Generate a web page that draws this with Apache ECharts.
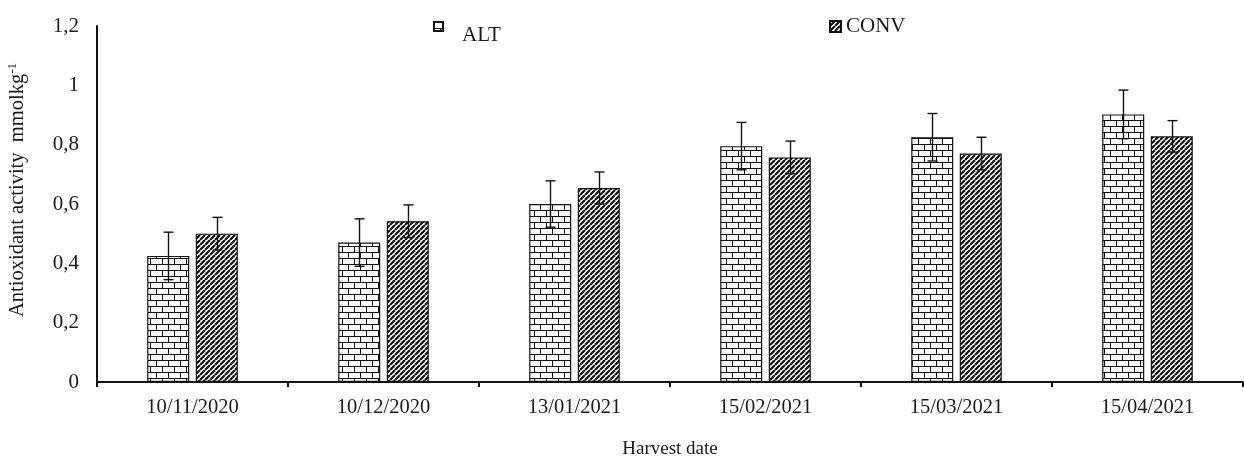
<!DOCTYPE html>
<html>
<head>
<meta charset="utf-8">
<script src="https://cdn.jsdelivr.net/npm/echarts@6/dist/echarts.min.js"></script>
<style>html,body{margin:0;padding:0;background:#fff}#c{width:1244px;height:464px}</style>
</head>
<body>
<div id="c"></div>
<script>
const categories = ['10/11/2020','10/12/2020','13/01/2021','15/02/2021','15/03/2021','15/04/2021'];
const altValues  = [0.425, 0.47, 0.60, 0.795, 0.825, 0.902];
const altErr     = [0.080, 0.080, 0.078, 0.080, 0.080, 0.082];
const convValues = [0.50, 0.542, 0.654, 0.757, 0.770, 0.828];
const convErr    = [0.055, 0.055, 0.054, 0.055, 0.055, 0.053];
const yTickLabels = ['0','0,2','0,4','0,6','0,8','1','1,2'];
const seriesNames = ['ALT','CONV'];

const FONT = '"Liberation Serif", "DejaVu Serif", serif';
const BAR_W = 0.22, BAR_GAP = 0.155;

function brickPattern(){
  const c = document.createElement('canvas'); c.width = 12; c.height = 12;
  const g = c.getContext('2d');
  g.fillStyle = '#fff'; g.fillRect(0,0,12,12);
  g.strokeStyle = '#111'; g.lineWidth = 1;
  g.beginPath();
  g.moveTo(0,0.5); g.lineTo(12,0.5);
  g.moveTo(0,6.5); g.lineTo(12,6.5);
  g.moveTo(0.5,0); g.lineTo(0.5,6);
  g.moveTo(6.5,6); g.lineTo(6.5,12);
  g.stroke();
  return c;
}
function hatchPattern(){
  const s = 5;
  const c = document.createElement('canvas'); c.width = s; c.height = s;
  const g = c.getContext('2d');
  g.fillStyle = '#fff'; g.fillRect(0,0,s,s);
  g.strokeStyle = '#111'; g.lineWidth = 2.2;
  g.beginPath();
  for (let k=-1;k<=1;k++){ g.moveTo(k*s, s); g.lineTo(k*s+s, 0); }
  g.stroke();
  return c;
}
const brick = {image: brickPattern(), repeat: 'repeat'};
const hatch = {image: hatchPattern(), repeat: 'repeat'};

function errData(vals, errs){ return vals.map((v,i)=>[i, v-errs[i], v+errs[i]]); }
function errSeries(vals, errs, sign){
  return {
    type: 'custom', silent: true, z: 5,
    data: errData(vals, errs),
    encode: {x: 0, y: [1,2]},
    renderItem: function(params, api){
      const W = api.size([1,0])[0];
      const off = sign * W * BAR_W * (1 + BAR_GAP) / 2;
      const lo = api.coord([api.value(0), api.value(1)]);
      const hi = api.coord([api.value(0), api.value(2)]);
      const x = Math.round(lo[0] + off) + 0.5;
      const cap = 5;
      const st = {stroke: '#111', lineWidth: 1.4};
      return {type: 'group', children: [
        {type:'line', shape:{x1:x, y1:hi[1], x2:x, y2:lo[1]}, style: st},
        {type:'line', shape:{x1:x-cap, y1:hi[1], x2:x+cap, y2:hi[1]}, style: st},
        {type:'line', shape:{x1:x-cap, y1:lo[1], x2:x+cap, y2:lo[1]}, style: st}
      ]};
    }
  };
}

const chart = echarts.init(document.getElementById('c'));
chart.setOption({
  animation: false,
  backgroundColor: '#fff',
  textStyle: {fontFamily: FONT},
  grid: {left: 97, right: 1, top: 26, bottom: 82, containLabel: false, outerBoundsMode: 'none'},
  legend: [
    {left: 428, top: 16, data: [seriesNames[0]], itemWidth: 9, itemHeight: 9, icon: 'rect', itemGap: 0,
     formatter: '{a|{name}}',
     textStyle: {fontFamily: FONT, fontSize: 21, color: '#1a1a1a',
       rich: {a: {fontFamily: FONT, fontSize: 21, color: '#1a1a1a', padding: [18,0,0,14]}}}},
    {left: 824, top: 11, data: [seriesNames[1]], itemWidth: 11, itemHeight: 11, icon: 'rect',
     textStyle: {fontFamily: FONT, fontSize: 21, color: '#1a1a1a', padding: [0,0,0,0]}}
  ],
  xAxis: {
    type: 'category', data: categories,
    name: 'Harvest date', nameLocation: 'middle', nameGap: 58,
    nameTextStyle: {fontFamily: FONT, fontSize: 19, color: '#1a1a1a'},
    axisLine: {lineStyle: {color: '#111', width: 2}},
    axisTick: {show: true, length: 5, lineStyle: {color: '#111', width: 2}},
    axisLabel: {fontFamily: FONT, fontSize: 20.5, color: '#1a1a1a', margin: 15}
  },
  yAxis: {
    type: 'value', min: 0, max: 1.2, interval: 0.2,
    name: '{n|Antioxidant activity  mmolkg}{s|-1}', nameLocation: 'middle', nameGap: 68,
    nameTextStyle: {
      fontFamily: FONT, color: '#1a1a1a', padding: [0,0,0,28],
      rich: {n: {fontFamily: FONT, fontSize: 20.5, color: '#1a1a1a'},
             s: {fontFamily: FONT, fontSize: 13, color: '#1a1a1a', verticalAlign: 'top', padding: [0,0,10,0]}}
    },
    axisLine: {show: true, lineStyle: {color: '#111', width: 2}},
    axisTick: {show: false},
    splitLine: {show: false},
    axisLabel: {fontFamily: FONT, fontSize: 21, color: '#1a1a1a', margin: 18,
      formatter: function(v){ return yTickLabels[Math.round(v/0.2)]; }}
  },
  series: [
    {name: seriesNames[0], type: 'bar', data: altValues, barWidth: (BAR_W*100)+'%', barGap: (BAR_GAP*100)+'%',
     itemStyle: {color: brick, borderColor: '#111', borderWidth: 1.2}},
    {name: seriesNames[1], type: 'bar', data: convValues, barWidth: (BAR_W*100)+'%',
     itemStyle: {color: hatch, borderColor: '#111', borderWidth: 1.2}},
    errSeries(altValues, altErr, -1),
    errSeries(convValues, convErr, 1)
  ]
});
</script>
</body>
</html>
